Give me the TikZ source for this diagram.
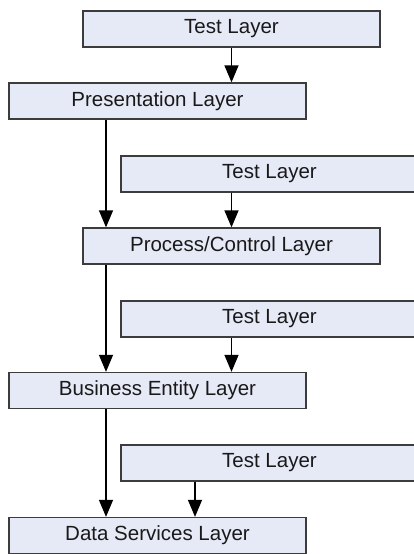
\documentclass[tikz,border=0pt]{standalone}
\usepackage{fontspec}
\setmainfont{Liberation Sans}
\usetikzlibrary{arrows.meta,calc}
\definecolor{layerfill}{RGB}{230,234,247}
\definecolor{layerline}{RGB}{60,60,60}
\tikzset{
  layer/.style={draw=layerline, fill=layerfill, line width=1.3pt,
    minimum width=297pt, minimum height=36pt, inner sep=0pt,
    font=\fontsize{20.5}{24}\selectfont, text=black!90},
  flow/.style={draw=black, line width=1.3pt, -{Triangle[width=14pt,length=17pt]}}
}
\begin{document}
\begin{tikzpicture}[x=1pt,y=-1pt]
  \useasboundingbox (0,0) rectangle (414,554);
  \clip (0,0) rectangle (414,554);

  % main stack of layers
  \node[layer] (pres) at (157.5,101)   {Presentation Layer};
  \node[layer] (proc) at (231.5,246)   {Process/Control Layer};
  \node[layer] (biz)  at (157.5,390.5) {Business Entity Layer};
  \node[layer] (data) at (157.5,535.5) {Data Services Layer};

  % test layers feeding each level
  \node[layer] (t1) at (231.5,29)  {Test Layer};
  \node[layer] (t2) at (269.5,174) {Test Layer};
  \node[layer] (t3) at (269.5,319) {Test Layer};
  \node[layer] (t4) at (269.5,463) {Test Layer};

  % x positions of the vertical connectors
  \coordinate (spine) at (106,0);
  \coordinate (cfour) at (195,0);

  % downward flow through the stack
  \draw[flow] (pres.south -| spine) -- (proc.north -| spine);
  \draw[flow] (proc.south -| spine) -- (biz.north -| spine);
  \draw[flow] (biz.south -| spine)  -- (data.north -| spine);

  % test layers into their targets
  \draw[flow] (t1.south) -- (pres.north -| t1.south);
  \draw[flow] (t2.south -| proc.north) -- (proc.north);
  \draw[flow] (t3.south -| proc.north) -- (biz.north -| proc.north);
  \draw[flow] (t4.south -| cfour) -- (data.north -| cfour);
\end{tikzpicture}
\end{document}
